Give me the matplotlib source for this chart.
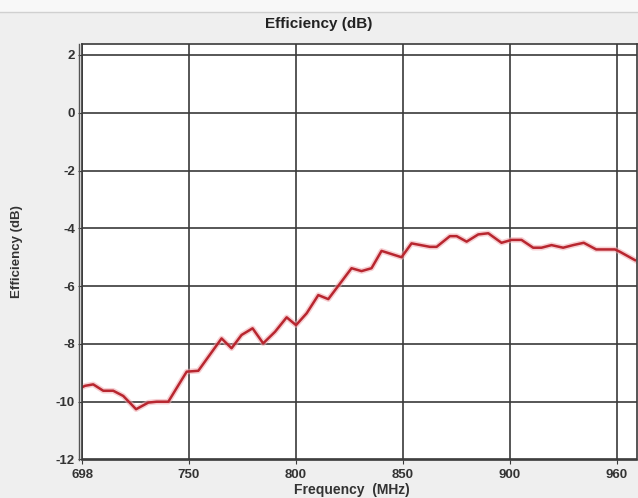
import matplotlib
matplotlib.use("Agg")
import matplotlib.pyplot as plt
from matplotlib.lines import Line2D
from matplotlib.patches import Rectangle

# ---- data ----
freq_mhz = [698, 699.5, 703.5, 708.4, 713.3, 718.2, 724.5, 730.5, 734.6, 740.3,
            749.3, 755.0, 766.4, 771.3, 776.2, 781.6, 786.8, 792.6, 798.3, 802.9,
            808.1, 813.8, 818.7, 830.1, 835.0, 839.9, 844.8, 854.6, 859.5, 868.5,
            871.8, 878.3, 881.6, 886.5, 892.2, 897.1, 903.6, 908.5, 913.4, 919.1,
            923.2, 928.1, 933.8, 938.7, 943.9, 950.0, 959.2, 961.6, 969.0]
eff_db = [-9.50, -9.45, -9.40, -9.62, -9.62, -9.80, -10.26, -10.03, -10.0, -10.0,
          -8.96, -8.93, -7.81, -8.15, -7.69, -7.46, -7.98, -7.58, -7.08, -7.35,
          -6.94, -6.31, -6.45, -5.38, -5.48, -5.38, -4.78, -5.00, -4.52, -4.64,
          -4.64, -4.27, -4.27, -4.46, -4.21, -4.17, -4.50, -4.40, -4.40, -4.67,
          -4.67, -4.58, -4.67, -4.58, -4.50, -4.73, -4.73, -4.81, -5.10]
x_tick_labels = ["698", "750", "800", "850", "900", "960"]
y_ticks = [-12, -10, -8, -6, -4, -2, 0, 2]

W, H = 638, 498
fig = plt.figure(figsize=(W / 100, H / 100), dpi=100)
fig.patch.set_facecolor("#efefef")
# light top strip
fig.patches.append(Rectangle((0, 1 - 12 / H), 1, 12 / H, transform=fig.transFigure,
                             facecolor="#f8f8f8", edgecolor="none", zorder=0))
fig.lines.append(Line2D([0, 1], [1 - 12 / H, 1 - 12 / H], transform=fig.transFigure,
                        color="#d0d0d0", lw=1))

ax = fig.add_axes([82 / W, 38.5 / H, 555 / W, 415.5 / H])
ax.set_facecolor("white")

x0, x1 = 698, 960
n = len(x_tick_labels) - 1
xt = [x0 + k * (x1 - x0) / n for k in range(n + 1)]
ax.set_xlim(698, 970)
ax.set_ylim(-12, 2.38)
ax.set_xticks(xt)
ax.set_xticklabels(x_tick_labels)
ax.set_yticks(y_ticks)
ax.set_yticklabels([str(v) for v in y_ticks])

ax.grid(True, color="#3a3a3a", lw=1.2)
ax.set_axisbelow(True)
for s in ax.spines.values():
    s.set_color("#3a3a3a")
    s.set_linewidth(1.2)
# double left line
ax.add_line(Line2D([-0.006, -0.006], [0, 1], transform=ax.transAxes,
                   color="#555555", lw=1.0, clip_on=False))

ax.tick_params(axis="both", length=3, color="#3a3a3a", labelsize=9.5,
               labelcolor="#333333")
ax.tick_params(axis="x", pad=4)
ax.tick_params(axis="y", pad=2)
for lab in ax.get_xticklabels() + ax.get_yticklabels():
    lab.set_fontweight("bold")
    lab.set_family("Liberation Sans")

ax.plot(freq_mhz, eff_db, color="#f0a8ae", lw=4.0, alpha=0.55, solid_joinstyle="round")
ax.plot(freq_mhz, eff_db, color="#b8262f", lw=1.8, solid_joinstyle="round")

fig.text(0.5, 1 - 24 / H, "Efficiency (dB)", ha="center", va="center",
         fontsize=11, fontweight="bold", family="Liberation Sans", color="#222222")
fig.text(352 / W, 1 - 490 / H, "Frequency  (MHz)", ha="center", va="center",
         fontsize=10, fontweight="bold", family="Liberation Sans", color="#333333")
fig.text(17 / W, 1 - 252 / H, "Efficiency (dB)", ha="center", va="center",
         rotation=90, fontsize=9.5, fontweight="bold", family="Liberation Sans",
         color="#333333")

fig.savefig("out.png", dpi=100, facecolor=fig.get_facecolor())
